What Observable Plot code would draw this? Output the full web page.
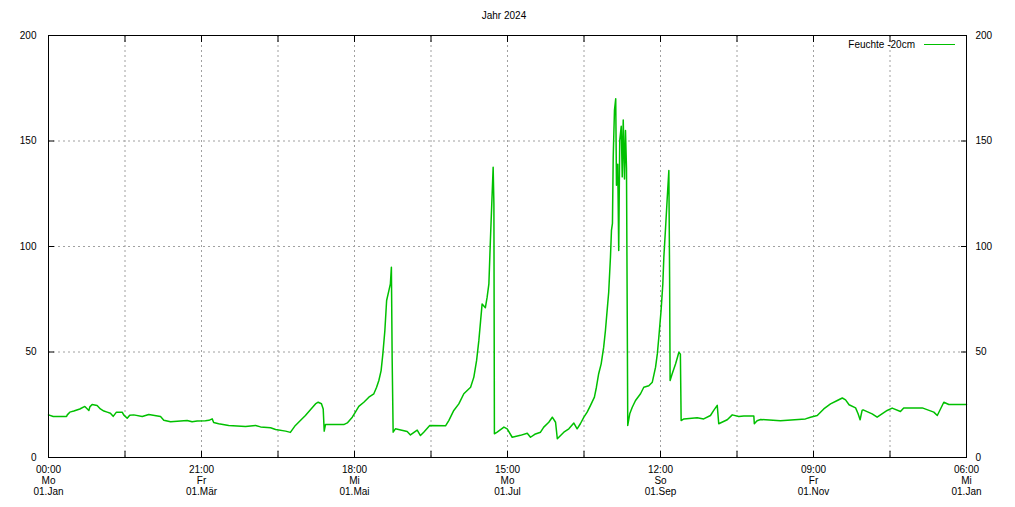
<!DOCTYPE html>
<html><head><meta charset="utf-8">
<script src="https://cdn.jsdelivr.net/npm/d3@7"></script>
<script src="https://cdn.jsdelivr.net/npm/@observablehq/plot@0.6"></script>
<style>
body{margin:0;background:#fff;font-family:"Liberation Sans",Arial,sans-serif;}
#wrap{position:relative;width:1015px;height:507px;overflow:hidden;}
#title{height:26px;line-height:32px;text-align:center;font-size:10px;padding-right:7px;box-sizing:border-box;color:#000;}
#legend{position:absolute;top:38px;right:100px;font-size:10px;line-height:14px;color:#000;}
#legline{position:absolute;left:924px;top:44px;width:31px;height:0;border-top:1.5px solid #00c000;}
</style></head>
<body>
<div id="wrap">
<div id="title">Jahr 2024</div>
<div id="chart"></div>
<div id="legend">Feuchte -20cm</div>
<div id="legline"></div>
</div>
<script>
// day of year (0 = 01.Jan 00:00) and soil moisture values
const days = [0,1.9,7.2,7.5,8.5,10.1,12.5,14.5,16.1,16.5,17.4,19.4,20.7,22.1,23.4,24.7,25.8,27.1,29.4,30.0,31.4,32.4,34.0,37.4,40.0,44.7,46.0,48.7,52.7,55.3,57.3,59.3,62.6,64.0,65.3,65.9,67.9,71.9,78.6,82.6,84.6,88.6,90.6,94.6,96.5,98.5,100.5,102.5,104.5,106.5,107.6,108.9,109.6,110.0,110.5,117.8,119.2,121.2,122.5,123.8,125.8,127.8,129.8,130.9,131.8,132.7,133.4,134.2,134.9,135.8,136.4,136.8,137.1,137.5,138.4,143.1,144.4,147.1,148.4,149.7,152.1,158.4,159.7,161.7,163.7,165.7,168.4,169.7,170.8,171.7,172.4,173.0,174.3,175.0,175.7,176.3,177.0,177.4,177.7,177.9,179.0,181.7,183.0,185.0,188.3,191.0,192.3,194.0,196.3,197.6,199.6,201.0,202.3,203.0,205.6,207.6,209.6,210.9,212.2,213.6,214.9,216.2,217.8,218.6,219.5,220.5,221.5,222.2,223.1,223.5,224.2,224.6,225.0,225.3,225.8,226.3,226.6,227.1,227.5,227.9,228.5,228.9,229.3,229.8,230.2,230.6,230.9,231.1,231.9,232.9,234.2,236.2,237.5,239.5,240.9,242.2,242.9,243.5,244.4,245.1,245.5,246.2,246.8,247.5,247.8,248.0,248.8,250.2,251.5,252.1,252.4,253.5,258.8,261.4,264.1,265.4,266.8,267.4,270.8,272.8,275.4,277.4,281.4,281.6,282.7,284.1,292.0,302.0,304.0,306.7,309.3,312.0,314.7,316.7,318.0,319.4,322.0,323.0,323.8,324.6,325.0,328.6,330.6,334.6,336.6,339.9,341.2,348.6,353.2,354.6,357.2,359.2,366.25];
const values = [20.2,19.4,19.4,20.2,21.5,22,23,24.2,22.3,24,25.1,24.6,23,22,21.5,21,19.5,21.5,21.5,20.2,18.6,20,20.2,19.4,20.4,19.4,17.7,16.9,17.3,17.5,16.9,17.3,17.4,17.6,18.3,16.6,16.0,15.2,14.7,15.2,14.5,14.1,13.3,12.5,11.9,15.2,17.5,19.9,22.6,25.4,26.2,25.5,23,12.5,15.6,15.6,16.4,19.1,21.6,24.2,26.2,28.6,30.2,33.3,36.5,41.2,49.1,60.2,74.4,79.1,82.3,90.2,47.5,12,13.6,12.3,10.7,13,10.4,12,15.2,15.0,17.5,22.3,25.4,30.2,33.3,38.1,46,55.5,64.9,72.8,71,76,82.3,102.8,125,137.6,120,11.2,12,14.4,13.6,9.6,10.5,11.5,9.6,11,12,14.4,16.7,19.1,16.7,8.9,12,13.6,16.3,13.6,16,19.1,21.5,24.6,28.6,33.3,39.7,44.4,52.3,60.2,72.8,78.3,94.9,107.6,111,142.3,164.5,170,129,139,98.1,150.2,157,133,160,132,155,137,66.5,15.2,20.7,23.8,27,30.2,33.3,34,35.7,42.8,49.1,57,69.7,82.3,94.9,109.1,121.8,136,85.5,36.5,39.6,44.4,49.9,49,17.5,18.3,18.8,18.3,19.9,22.3,24.7,16,17.9,20.2,19.4,19.7,19.7,16,17.4,18,17.4,18.3,19.1,19.9,23,25.4,27,28.2,27.3,25,23.5,20.7,17.9,22.3,22.6,20.7,19.1,22.3,23.4,21.8,23.5,23.5,21.5,19.9,26.2,25.1,25.1];
const yTicks = [0,50,100,150,200];
const tickTimes = ["00:00","","21:00","","18:00","","15:00","","12:00","","09:00","","06:00"];
const tickDays  = ["Mo","","Fr","","Mi","","Mo","","So","","Fr","","Mi"];
const tickDates = ["01.Jan","","01.Mär","","01.Mai","","01.Jul","","01.Sep","","01.Nov","","01.Jan"];

const span = 366.25;
const step = span / 12;
const xTicks = tickTimes.map((_, i) => i * step);
const xLabel = d => {
  const i = Math.round(d / step);
  return tickTimes[i] ? tickTimes[i] + "\n" + tickDays[i] + "\n" + tickDates[i] : "";
};
const rows = days.map((d, i) => ({day: d, value: values[i]}));
const grid = {stroke: "#a0a0a0", strokeOpacity: 1, strokeDasharray: "2,3", strokeWidth: 1};

const chart = Plot.plot({
  width: 1015, height: 481,
  marginLeft: 48, marginRight: 49, marginTop: 9, marginBottom: 50,
  style: {fontFamily: "Liberation Sans, Arial, sans-serif", fontSize: "10px", background: "white", color: "black"},
  x: {domain: [0, span]},
  y: {domain: [0, 200]},
  marks: [
    Plot.gridX(xTicks, grid),
    Plot.gridY(yTicks, grid),
    Plot.line(rows, {x: "day", y: "value", stroke: "#00c000", strokeWidth: 1.5, curve: "linear"}),
    Plot.frame({stroke: "black"}),
    Plot.axisY(yTicks, {anchor: "left", tickSize: -6, tickPadding: 18, label: null}),
    Plot.axisY(yTicks, {anchor: "right", tickSize: -6, tickPadding: 15, label: null}),
    Plot.axisX(xTicks, {anchor: "bottom", tickSize: -6, tickPadding: 14, tickFormat: xLabel, lineHeight: 1.1, label: null}),
    Plot.axisX(xTicks, {anchor: "top", tickSize: -6, fill: "none", label: null})
  ]
});
document.getElementById("chart").appendChild(chart);
</script>
</body></html>
